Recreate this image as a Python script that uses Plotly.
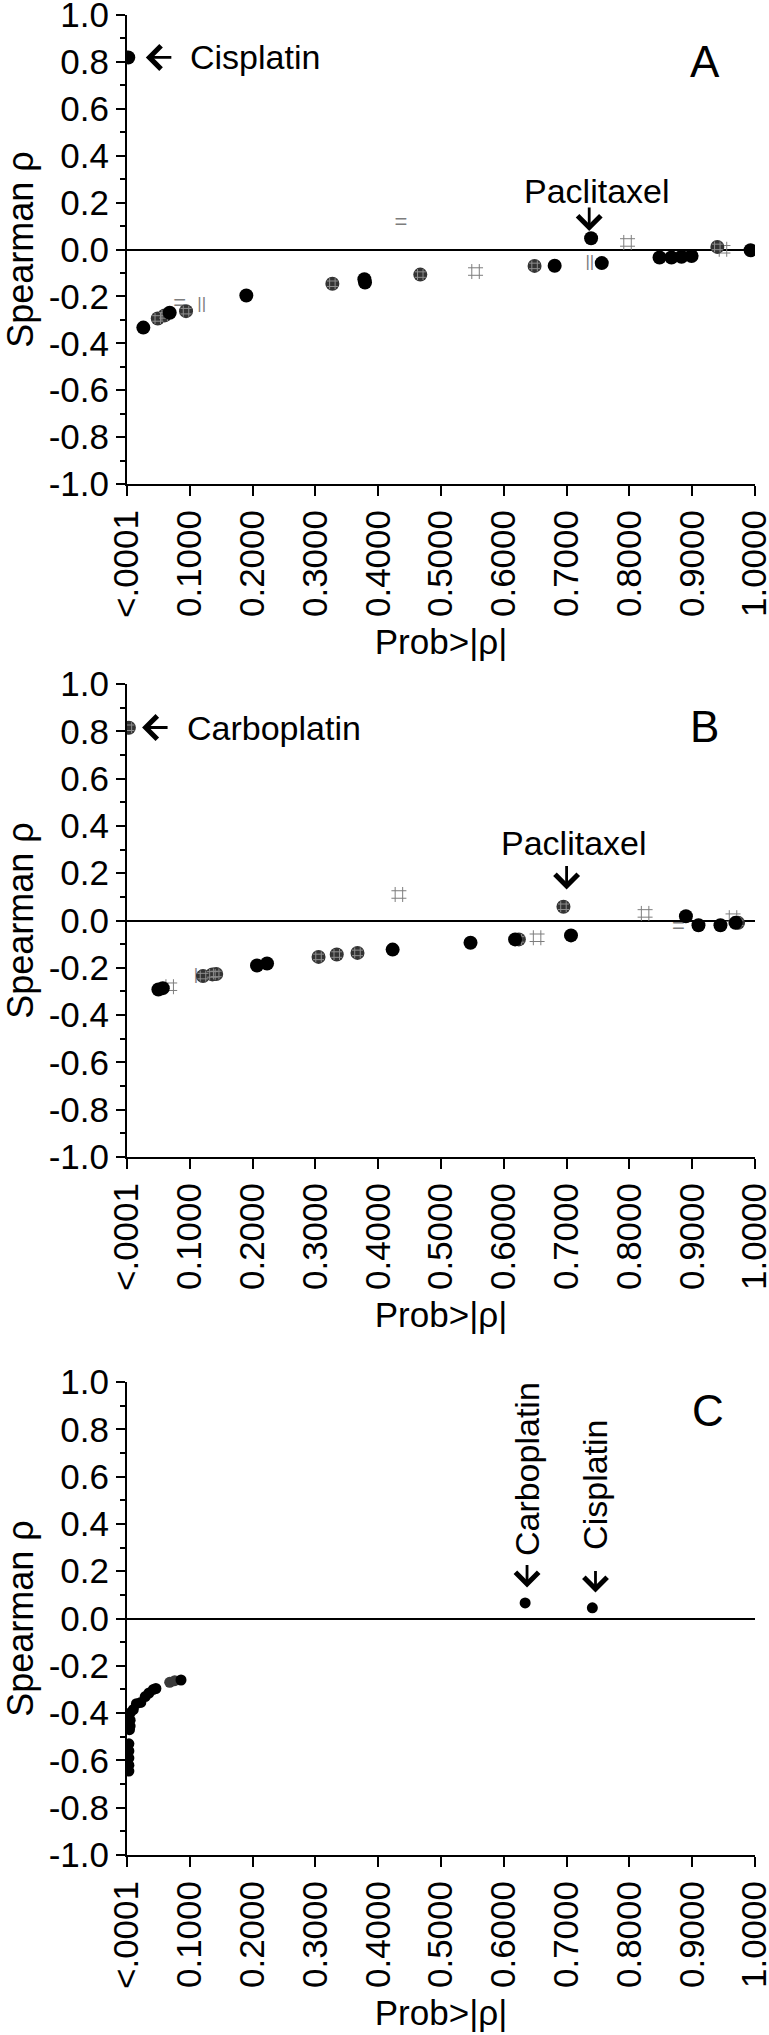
import plotly.graph_objects as go

# ---------------- data ----------------
x_tickvals = [0.0, 0.1, 0.2, 0.3, 0.4, 0.5, 0.6, 0.7, 0.8, 0.9, 1.0]
x_ticktext = ["<.0001", "0.1000", "0.2000", "0.3000", "0.4000", "0.5000",
              "0.6000", "0.7000", "0.8000", "0.9000", "1.0000"]
y_tickvals = [-1.0, -0.8, -0.6, -0.4, -0.2, 0.0, 0.2, 0.4, 0.6, 0.8, 1.0]
y_ticktext = ["-1.0", "-0.8", "-0.6", "-0.4", "-0.2", "0.0", "0.2", "0.4", "0.6", "0.8", "1.0"]
y_minorvals = [-0.9, -0.7, -0.5, -0.3, -0.1, 0.1, 0.3, 0.5, 0.7, 0.9]

# Panel A
A_black_x = [0.002, 0.026, 0.068, 0.190, 0.378, 0.379, 0.681, 0.739, 0.756, 0.848, 0.867, 0.883, 0.899, 0.993]
A_black_y = [0.819, -0.333, -0.270, -0.196, -0.127, -0.141, -0.069, 0.048, -0.058, -0.034, -0.034, -0.031, -0.028, -0.003]
A_hatch_x = [0.049, 0.060, 0.094, 0.327, 0.467, 0.649, 0.940]
A_hatch_y = [-0.294, -0.281, -0.263, -0.146, -0.107, -0.070, 0.011]
A_hash_x = [0.555, 0.797, 0.949]
A_hash_y = [-0.094, 0.030, 0.001]
A_eq_x = [0.084, 0.436]
A_eq_y = [-0.236, 0.111]
A_bar_x = [0.119, 0.737]
A_bar_y = [-0.237, -0.058]
A_bar_t = ["||", "||"]

# Panel B
B_black_x = [0.050, 0.057, 0.207, 0.223, 0.423, 0.547, 0.618, 0.707, 0.890, 0.910, 0.945, 0.969]
B_black_y = [-0.292, -0.286, -0.190, -0.182, -0.123, -0.094, -0.080, -0.063, 0.018, -0.020, -0.020, -0.010]
B_hatch_x = [0.003, 0.121, 0.136, 0.142, 0.305, 0.334, 0.367, 0.624, 0.695, 0.973]
B_hatch_y = [0.815, -0.235, -0.228, -0.226, -0.154, -0.144, -0.137, -0.080, 0.058, -0.010]
B_hash_x = [0.068, 0.433, 0.653, 0.825, 0.965]
B_hash_y = [-0.280, 0.110, -0.073, 0.030, 0.012]
B_eq_x = [0.878]
B_eq_y = [-0.031]
B_bar_x = [0.110]
B_bar_y = [-0.235]
B_bar_t = ["|"]

# Panel C
C_black_x = [0.003, 0.003, 0.003, 0.003, 0.003, 0.005, 0.005, 0.005, 0.004, 0.010, 0.015,
             0.022, 0.029, 0.035, 0.042, 0.046, 0.086, 0.634, 0.741]
C_black_y = [-0.530, -0.560, -0.590, -0.620, -0.645, -0.400, -0.430, -0.455, -0.470, -0.385, -0.360,
             -0.355, -0.330, -0.315, -0.300, -0.296, -0.260, 0.066, 0.045]
C_gray_x = [0.068, 0.076]
C_gray_y = [-0.270, -0.263]

FONT = "Liberation Sans, Arial, sans-serif"
HATCH_FILL = "#333333"
HATCH_LINE = "#8e8e8e"
MARK_GRAY = "#7d7d7d"

fig = go.Figure()

panels = [
    ("x", "y", A_black_x, A_black_y, A_hatch_x, A_hatch_y, A_hash_x, A_hash_y,
     A_eq_x, A_eq_y, A_bar_x, A_bar_y, A_bar_t),
    ("x2", "y2", B_black_x, B_black_y, B_hatch_x, B_hatch_y, B_hash_x, B_hash_y,
     B_eq_x, B_eq_y, B_bar_x, B_bar_y, B_bar_t),
]

for (xa, ya, bx, by, hx, hy, sx, sy, ex, ey, vx, vy, vt) in panels:
    fig.add_trace(go.Scatter(x=sx, y=sy, mode="markers", xaxis=xa, yaxis=ya,
                             marker=dict(symbol="hash-open", size=15, color=MARK_GRAY,
                                         line=dict(color=MARK_GRAY, width=1)),
                             showlegend=False))
    fig.add_trace(go.Scatter(x=ex, y=ey, mode="text", text=["="] * len(ex), xaxis=xa, yaxis=ya,
                             textfont=dict(family=FONT, size=22, color=MARK_GRAY),
                             showlegend=False))
    fig.add_trace(go.Scatter(x=vx, y=vy, mode="text", text=vt, xaxis=xa, yaxis=ya,
                             textfont=dict(family=FONT, size=17, color=MARK_GRAY),
                             showlegend=False))
    fig.add_trace(go.Scatter(x=hx, y=hy, mode="markers", xaxis=xa, yaxis=ya,
                             marker=dict(symbol="circle", size=14, color=HATCH_FILL,
                                         line=dict(width=0)),
                             showlegend=False))
    fig.add_trace(go.Scatter(x=hx, y=hy, mode="markers", xaxis=xa, yaxis=ya,
                             marker=dict(symbol="hash-open", size=11, color=HATCH_LINE,
                                         line=dict(color=HATCH_LINE, width=1)),
                             showlegend=False))
    fig.add_trace(go.Scatter(x=bx, y=by, mode="markers", xaxis=xa, yaxis=ya,
                             marker=dict(symbol="circle", size=14, color="black",
                                         line=dict(width=0)),
                             showlegend=False))

fig.add_trace(go.Scatter(x=C_gray_x, y=C_gray_y, mode="markers", xaxis="x3", yaxis="y3",
                         marker=dict(symbol="circle", size=11, color="#3a3a3a", line=dict(width=0)),
                         showlegend=False))
fig.add_trace(go.Scatter(x=C_black_x, y=C_black_y, mode="markers", xaxis="x3", yaxis="y3",
                         marker=dict(symbol="circle", size=11, color="black", line=dict(width=0)),
                         showlegend=False))

# ---------------- axes ----------------
W, H = 769, 2035
ml, mr, mt, mb = 127, 14, 15, 180
ph = H - mt - mb
def dom(top_px, bot_px):
    return [1 - (bot_px - mt) / ph, 1 - (top_px - mt) / ph]

domains = [dom(15, 484), dom(684, 1157), dom(1382, 1855)]

def xax(anchor):
    return dict(range=[0, 1], tickmode="array", tickvals=x_tickvals, ticktext=x_ticktext,
                tickangle=-90, ticks="outside", ticklen=10, tickwidth=2, tickcolor="black",
                showline=True, linewidth=2, linecolor="black", showgrid=False, zeroline=False,
                ticklabeloverflow="allow",
                tickfont=dict(family=FONT, size=35, color="black"), anchor=anchor,
                title=dict(text="Prob>|ρ|", font=dict(family=FONT, size=35, color="black"),
                           standoff=12),
                fixedrange=True)

def yax(anchor, domain):
    return dict(range=[-1, 1], domain=domain, tickmode="array", tickvals=y_tickvals,
                ticktext=y_ticktext, ticks="outside", ticklen=9, tickwidth=2, tickcolor="black",
                minor=dict(tickmode="array", tickvals=y_minorvals, ticks="outside", ticklen=5,
                           tickwidth=1.5, tickcolor="black", showgrid=False),
                showline=True, linewidth=2, linecolor="black", showgrid=False,
                zeroline=True, zerolinecolor="black", zerolinewidth=1.5,
                ticklabeloverflow="allow",
                tickfont=dict(family=FONT, size=35, color="black"), anchor=anchor,
                title=dict(text="Spearman ρ", font=dict(family=FONT, size=36, color="black"),
                           standoff=6),
                fixedrange=True)

fig.update_layout(
    width=W, height=H,
    margin=dict(l=ml, r=mr, t=mt, b=mb, autoexpand=False),
    paper_bgcolor="white", plot_bgcolor="white",
    font=dict(family=FONT, color="black"),
    xaxis=xax("y"), yaxis=yax("x", domains[0]),
    xaxis2=xax("y2"), yaxis2=yax("x2", domains[1]),
    xaxis3=xax("y3"), yaxis3=yax("x3", domains[2]),
    showlegend=False,
)

ann = []
def text_ann(xref, yref, x, y, text, size=34, xanchor="left", angle=0):
    ann.append(dict(xref=xref, yref=yref, x=x, y=y, text=text, showarrow=False,
                    xanchor=xanchor, yanchor="middle", textangle=angle,
                    font=dict(family=FONT, size=size, color="black")))

def arrow_ann(xref, yref, x, y, ax, ay):
    ann.append(dict(xref=xref, yref=yref, x=x, y=y, text="", showarrow=True,
                    ax=ax, ay=ay, arrowhead=4, arrowsize=1.6, arrowwidth=2.8,
                    arrowcolor="black", standoff=0, startstandoff=0))

# Panel A
text_ann("x", "y", 0.097, 0.819, "Cisplatin")
arrow_ann("x", "y", 0.030, 0.819, 27, 0)
text_ann("x", "y", 0.749, 0.25, "Paclitaxel", xanchor="center")
arrow_ann("x", "y", 0.736, 0.079, 0, -25)
text_ann("x", "y", 0.92, 0.80, "A", size=44, xanchor="center")
# Panel B
text_ann("x2", "y2", 0.092, 0.816, "Carboplatin")
arrow_ann("x2", "y2", 0.024, 0.816, 27, 0)
text_ann("x2", "y2", 0.711, 0.326, "Paclitaxel", xanchor="center")
arrow_ann("x2", "y2", 0.700, 0.131, 0, -25)
text_ann("x2", "y2", 0.92, 0.82, "B", size=44, xanchor="center")
# Panel C
text_ann("x3", "y3", 0.637, 0.632, "Carboplatin", xanchor="center", angle=-90)
arrow_ann("x3", "y3", 0.637, 0.131, 0, -24)
text_ann("x3", "y3", 0.746, 0.567, "Cisplatin", xanchor="center", angle=-90)
arrow_ann("x3", "y3", 0.746, 0.110, 0, -23)
text_ann("x3", "y3", 0.925, 0.88, "C", size=44, xanchor="center")

fig.update_layout(annotations=ann)

fig.write_html("out.html", include_plotlyjs=True, config={"displayModeBar": False},
               post_script="document.body.style.margin='0px';document.body.style.overflow='hidden';")
